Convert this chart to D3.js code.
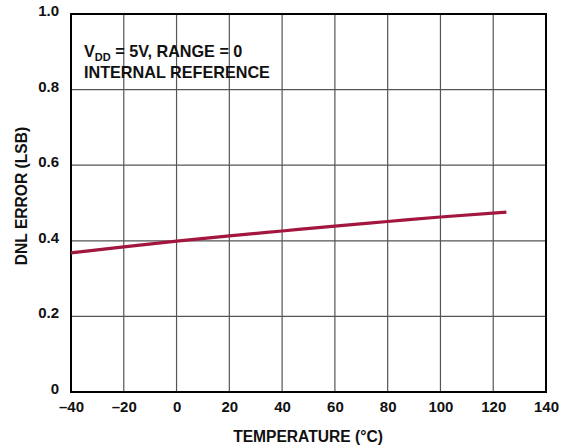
<!DOCTYPE html>
<html><head><meta charset="utf-8">
<script src="https://cdn.jsdelivr.net/npm/d3@7"></script>
<style>body{margin:0;background:#fff}text{font-family:"Liberation Sans",Arial,sans-serif;font-weight:bold;fill:#111}</style>
</head><body><svg id="c" width="572" height="446"></svg>
<script>
const temps = [-40, -20, 0, 20, 40, 60, 80, 100, 125];
const dnl = [0.368, 0.384, 0.399, 0.413, 0.426, 0.439, 0.451, 0.463, 0.476];
const xTicks = [-40, -20, 0, 20, 40, 60, 80, 100, 120, 140];
const yTicks = [0, 0.2, 0.4, 0.6, 0.8, 1.0];

const svg = d3.select("#c");
const m = {l:71, r:546, t:14, b:392};
const x = d3.scaleLinear().domain([-40,140]).range([m.l,m.r]);
const y = d3.scaleLinear().domain([0,1]).range([m.b,m.t]);

// grid
svg.append("g").selectAll("line").data(xTicks.slice(1,-1)).join("line")
  .attr("x1",d=>x(d)).attr("x2",d=>x(d)).attr("y1",m.t).attr("y2",m.b)
  .attr("stroke","#555").attr("stroke-width",1.2);
svg.append("g").selectAll("line").data(yTicks.slice(1,-1)).join("line")
  .attr("y1",d=>y(d)).attr("y2",d=>y(d)).attr("x1",m.l).attr("x2",m.r)
  .attr("stroke","#555").attr("stroke-width",1.2);

// axes via d3 axis (labels only)
const fmtX = d => d < 0 ? "\u2013" + Math.abs(d) : String(d);
const xa = svg.append("g").attr("transform",`translate(0,${m.b})`)
  .call(d3.axisBottom(x).tickValues(xTicks).tickFormat(fmtX).tickSize(0).tickPadding(9));
xa.select(".domain").remove();
xa.selectAll("text").attr("font-size",15).style("font-family","'Liberation Sans',Arial,sans-serif").style("font-weight","bold").attr("fill","#111");

const fmtY = d => d === 0 ? "0" : d.toFixed(1);
const ya = svg.append("g").attr("transform",`translate(${m.l},0)`)
  .call(d3.axisLeft(y).tickValues(yTicks).tickFormat(fmtY).tickSize(0).tickPadding(12));
ya.select(".domain").remove();
ya.selectAll("text").attr("font-size",15).attr("dy","0.1em").style("font-family","'Liberation Sans',Arial,sans-serif").style("font-weight","bold").attr("fill","#111");

// frame
svg.append("rect").attr("x",m.l).attr("y",m.t).attr("width",m.r-m.l).attr("height",m.b-m.t)
  .attr("fill","none").attr("stroke","#000").attr("stroke-width",2);

// data line
svg.append("path").datum(temps.map((t,i)=>[t,dnl[i]]))
  .attr("d", d3.line().x(d=>x(d[0])).y(d=>y(d[1])).curve(d3.curveMonotoneX))
  .attr("fill","none").attr("stroke","#a3173f").attr("stroke-width",3.2);

// annotation
const a1 = svg.append("text").attr("x",84).attr("y",57).attr("font-size",16.2);
a1.append("tspan").text("V");
a1.append("tspan").text("DD").attr("font-size",11).attr("dy",4);
a1.append("tspan").text(" = 5V, RANGE = 0").attr("dy",-4);
svg.append("text").attr("x",84).attr("y",78).attr("font-size",16.2).text("INTERNAL REFERENCE");

// titles
svg.append("text").attr("x",308).attr("y",442).attr("text-anchor","middle").attr("font-size",15.6).text("TEMPERATURE (°C)");
svg.append("text").attr("transform","translate(27,196) rotate(-90)").attr("text-anchor","middle").attr("font-size",15.6).text("DNL ERROR (LSB)");
</script></body></html>
